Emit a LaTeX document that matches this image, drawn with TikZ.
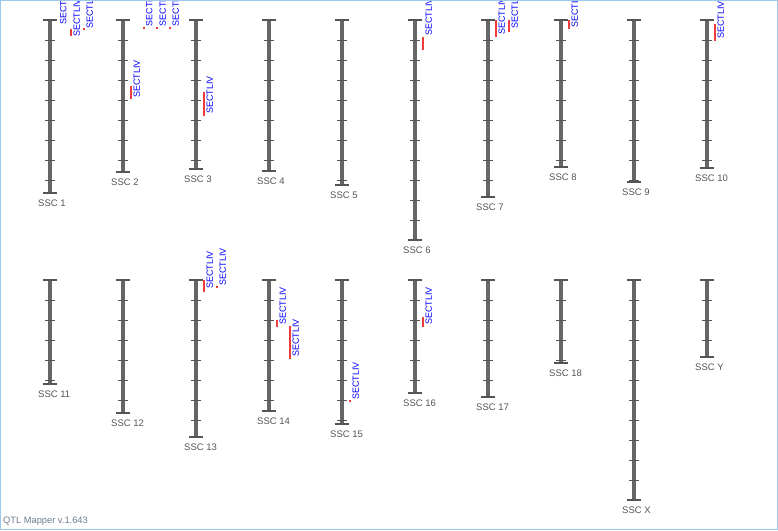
\documentclass[tikz,border=0pt]{standalone}
\usepackage{fontspec}
\setmainfont{Liberation Sans}
\definecolor{chrgray}{HTML}{666666}
\definecolor{tickgray}{HTML}{555555}
\definecolor{qtlred}{HTML}{EE3B3B}
\definecolor{qtlblue}{HTML}{0000FF}
\definecolor{frameblue}{HTML}{9CC8EC}
\definecolor{notegray}{HTML}{6A7C92}

% chromosome: name, x, top, bottom, label
\newcommand{\chromo}[5]{%
  \draw[chrbar] (#2,#3) -- (#2,#4);
  \draw[chrcap] (#2-7,#3) -- (#2+7,#3);
  \draw[chrcap] (#2-7,#4) -- (#2+7,#4);
  \pgfmathtruncatemacro\tfirst{#3+20}%
  \pgfmathtruncatemacro\tnext{#3+40}%
  \pgfmathtruncatemacro\tlast{#4-1}%
  \foreach \ty in {\tfirst,\tnext,...,\tlast}
    \draw[chrtick] (#2-5,\ty) -- (#2+5,\ty);
  \node[chrlabel] (#1) at (#2-12,#4+10.5) {#5};
}
% qtl: name, x, from, to, label bottom
\newcommand{\qtl}[5]{%
  \draw[qtlbar] (#2,#3) -- (#2,#4);
  \node[qtllabel] (#1) at (#2+2.3,#5) {SECTLIV};
}

\begin{document}
\begin{tikzpicture}[x=1pt, y=-1pt,
    chrbar/.style={chrgray, line width=4.4pt},
    chrcap/.style={tickgray, line width=1.2pt},
    chrtick/.style={tickgray, line width=1pt},
    chrlabel/.style={anchor=west, inner sep=0pt, text=tickgray, font=\fontsize{9.5}{11}\selectfont},
    qtlbar/.style={qtlred, line width=2pt},
    qtllabel/.style={rotate=90, anchor=north west, inner sep=0pt, text=qtlblue, font=\fontsize{9}{10}\selectfont}]
    \useasboundingbox (0,0) rectangle (778,530);
    \clip (0,0) rectangle (778,530);

    % upper row
    \chromo{ssc1}{50}{20}{193}{SSC 1}
    \chromo{ssc2}{123}{20}{172}{SSC 2}
    \chromo{ssc3}{196}{20}{169}{SSC 3}
    \chromo{ssc4}{269}{20}{171}{SSC 4}
    \chromo{ssc5}{342}{20}{185}{SSC 5}
    \chromo{ssc6}{415}{20}{240}{SSC 6}
    \chromo{ssc7}{488}{20}{197}{SSC 7}
    \chromo{ssc8}{561}{20}{167}{SSC 8}
    \chromo{ssc9}{634}{20}{182}{SSC 9}
    \chromo{ssc10}{707}{20}{168}{SSC 10}

    % lower row
    \chromo{ssc11}{50}{280}{384}{SSC 11}
    \chromo{ssc12}{123}{280}{413}{SSC 12}
    \chromo{ssc13}{196}{280}{437}{SSC 13}
    \chromo{ssc14}{269}{280}{411}{SSC 14}
    \chromo{ssc15}{342}{280}{424}{SSC 15}
    \chromo{ssc16}{415}{280}{393}{SSC 16}
    \chromo{ssc17}{488}{280}{397}{SSC 17}
    \chromo{ssc18}{561}{280}{363}{SSC 18}
    \chromo{sscx}{634}{280}{500}{SSC X}
    \chromo{sscy}{707}{280}{357}{SSC Y}

    % qtls
    \node[qtllabel] (q1a) at (60,25) {SECTLIV};
    \qtl{q1b}{71}{29}{36}{37}
    \qtl{q1c}{84}{28}{30}{29}
    \qtl{q2a}{131}{86}{99}{98}
    \qtl{q2b}{143.5}{27}{29}{26.5}
    \qtl{q2c}{157}{27}{29}{26.5}
    \qtl{q2d}{170}{27}{29}{26.5}
    \qtl{q3a}{204}{92}{116}{114}
    \qtl{q6a}{423}{37}{50}{36}
    \qtl{q7a}{496}{20}{37}{35}
    \qtl{q7b}{509}{20}{32}{29}
    \qtl{q8a}{569}{20}{29}{28}
    \qtl{q10a}{715}{24}{41}{39}
    \qtl{q13a}{204}{280}{292}{289}
    \qtl{q13b}{217}{286}{288}{286}
    \qtl{q14a}{277}{320}{327}{325}
    \qtl{q14b}{290}{326}{359}{357}
    \qtl{q15a}{350}{400}{402}{400}
    \qtl{q16a}{423}{317}{327}{325}

    \node[anchor=west, inner sep=0pt, text=notegray, font=\fontsize{9.3}{11}\selectfont] (version) at (3,521) {QTL Mapper v.1.643};
    \draw[frameblue, line width=1pt] (0.5,0.5) rectangle (777.5,529.5);
\end{tikzpicture}
\end{document}
